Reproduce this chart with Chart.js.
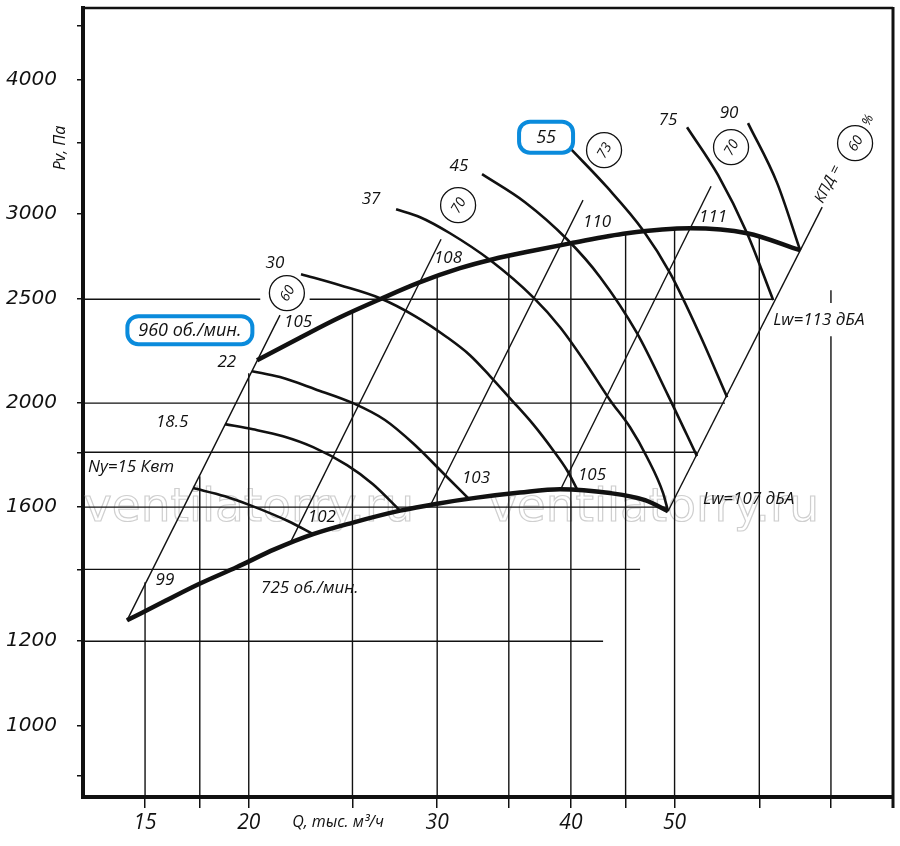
<!DOCTYPE html>
<html>
<head>
<meta charset="utf-8">
<script src="https://cdn.jsdelivr.net/npm/chart.js@4.4.1/dist/chart.umd.min.js"></script>
<style>
  html, body { margin: 0; padding: 0; background: #fff; }
  canvas { display: block; }
</style>
</head>
<body>
<canvas id="chart" width="900" height="846"></canvas>
<script>
// axis ticks (the first tick is printed as "15" on the original sheet)
const xTickValues = [16, 18, 20, 25, 30, 35, 40, 45, 50, 60, 70, 80];
const xTickLabels = ['15', '', '20', '', '30', '', '40', '', '50', '', '', ''];
const yTickValues = [900, 1000, 1200, 1400, 1600, 1800, 2000, 2500, 3000, 3500, 4000, 4500];
const yTickLabels = ['', '1000', '1200', '', '1600', '', '2000', '2500', '3000', '', '4000', ''];
const Q_MIN = 14, Q_MAX = 80, P_MIN = 859, P_MAX = 4670;

// fan curves, Q in thousand m3/h, Pv in Pa
const rpm960Q = [20.36, 22.33, 24.34, 26.53, 28.92, 31.51, 33.83, 36.64, 39.93, 45.14, 51.70, 58.44, 65.51];
const rpm960P = [2193, 2302, 2405, 2500, 2593, 2672, 2724, 2771, 2818, 2880, 2911, 2880, 2777];
const rpm725Q = [15.39, 16.70, 18.01, 19.50, 21.16, 22.97, 25.03, 27.70, 30.0, 32.68, 35.85, 39.08, 43.52, 46.92, 49.30];
const rpm725P = [1255, 1308, 1358, 1407, 1462, 1510, 1548, 1588, 1612, 1633, 1651, 1663, 1649, 1624, 1586];

// motor power curves (kW)
const n15Q = [17.74, 19.00, 20.05, 21.76, 22.97];
const n15P = [1667, 1638, 1607, 1553, 1510];
const n18Q = [19.00, 20.18, 21.53, 22.97, 24.71, 26.13, 27.70];
const n18P = [1912, 1891, 1863, 1820, 1751, 1681, 1588];
const n22Q = [20.14, 21.39, 23.07, 25.03, 26.81, 28.48, 30.64, 32.05];
const n22P = [2142, 2115, 2061, 2000, 1929, 1835, 1707, 1632];
const n30Q = [22.38, 24.34, 26.53, 28.60, 30.64, 32.19, 33.61, 35.09, 36.87, 38.50, 39.67, 40.53];
const n30P = [2638, 2576, 2505, 2411, 2304, 2217, 2120, 2021, 1912, 1808, 1732, 1663];
const n37Q = [27.46, 28.92, 30.84, 33.61, 36.87, 39.08, 41.24, 43.52, 45.43, 47.12, 48.78, 49.30];
const n37P = [3032, 2981, 2880, 2719, 2511, 2354, 2184, 2013, 1899, 1781, 1649, 1586];
const n45Q = [33.04, 36.24, 39.67, 42.60, 46.12, 49.30, 52.47];
const n45P = [3269, 3078, 2843, 2621, 2324, 2034, 1785];
const n55Q = [39.93, 43.24, 46.72, 49.52, 52.82, 55.98];
const n55P = [3457, 3179, 2899, 2644, 2314, 2026];
const n75Q = [51.36, 54.91, 58.44, 61.82];
const n75P = [3616, 3262, 2880, 2495];
const n90Q = [58.56, 62.35, 65.51];
const n90P = [3648, 3207, 2777];

// efficiency lines (straight on log-log)
const eff60LeftQ = [15.39, 21.39], eff60LeftP = [1255, 2416];
const eff70LeftQ = [21.86, 30.25], eff70LeftP = [1481, 2843];
const eff73Q = [29.60, 41.06], eff73P = [1610, 3092];
const eff70RightQ = [39.10, 54.08], eff70RightP = [1660, 3186];
const eff60RightQ = [49.30, 68.69], eff60RightP = [1586, 3046];

// partial grid
const hLineP = [1200, 1400, 1600, 1800, 2000, 2500];
const hLineEndQ = [42.87, 46.42, 49.30, 52.47, 55.73, 61.82];
const hGap2500 = [20.5, 22.8];
const vLineQ = [16, 18, 20, 25, 30, 35, 40, 45, 50, 60, 70];
const vLineTopP = [1362, 1710, 2133, 2439, 2627, 2745, 2820, 2880, 2905, 2855, 2549];
const vGap70 = [2309, 2479];

// texts
const textLabels = [
  { t: 'Ny=15 Квт', q: 14.15, p: 1743, a: 'left' },
  { t: '18.5', q: 16.96, p: 1920 },
  { t: '22', q: 19.08, p: 2184 },
  { t: '30', q: 21.16, p: 2701 },
  { t: '37', q: 26.02, p: 3098 },
  { t: '45', q: 31.44, p: 3325 },
  { t: '75', q: 49.31, p: 3671 },
  { t: '90', q: 56.22, p: 3727 },
  { t: '105', q: 22.24, p: 2380 },
  { t: '108', q: 30.71, p: 2730 },
  { t: '110', q: 42.32, p: 2949 },
  { t: '111', q: 54.32, p: 2981 },
  { t: '99', q: 16.70, p: 1368 },
  { t: '102', q: 23.41, p: 1566 },
  { t: '103', q: 32.61, p: 1703 },
  { t: '105', q: 41.86, p: 1714 },
  { t: 'Lw=113 дБА', q: 61.82, p: 2390, a: 'left' },
  { t: 'Lw=107 дБА', q: 53.16, p: 1628, a: 'left' },
  { t: '725 об./мин.', q: 22.81, p: 1345 }
];
const boxedLabels = [
  { t: '960 об./мин.', q: 17.62, p: 2339, w: 125, h: 28 },
  { t: '55', q: 37.92, p: 3539, w: 54, h: 31 }
];
const effCircles = [
  { t: '60', q: 21.71, p: 2533 },
  { t: '70', q: 31.38, p: 3059 },
  { t: '73', q: 42.96, p: 3442 },
  { t: '70', q: 56.46, p: 3464 },
  { t: '60', q: 73.73, p: 3494 }
];
const kpdLabel = { t: 'КПД =', q: 69.58, p: 3200 };
const pctLabel = { t: '%', q: 75.82, p: 3671 };

const INK = '#111';
const ITALIC = 'italic 17px "Open Sans"';

function curve(qs, ps, width, smooth) {
  return {
    data: qs.map((q, i) => ({ x: q, y: ps[i] })),
    showLine: true,
    borderColor: INK,
    borderWidth: width,
    pointRadius: 0,
    fill: false,
    tension: 0,
    cubicInterpolationMode: smooth ? 'monotone' : 'default'
  };
}

const datasets = [];
// rpm curves on top
datasets.push(curve(rpm960Q, rpm960P, 4.5, true));
datasets.push(curve(rpm725Q, rpm725P, 4.5, true));
[[n15Q, n15P], [n18Q, n18P], [n22Q, n22P], [n30Q, n30P], [n37Q, n37P],
 [n45Q, n45P], [n55Q, n55P], [n75Q, n75P], [n90Q, n90P]].forEach(([q, p]) => {
  datasets.push(curve(q, p, 2.6, true));
});
[[eff60LeftQ, eff60LeftP], [eff70LeftQ, eff70LeftP], [eff73Q, eff73P],
 [eff70RightQ, eff70RightP], [eff60RightQ, eff60RightP]].forEach(([q, p]) => {
  datasets.push(curve(q, p, 1.4, false));
});
// horizontal grid pieces
hLineP.forEach((p, i) => {
  if (p === 2500) {
    datasets.push(curve([Q_MIN, hGap2500[0]], [p, p], 1.4, false));
    datasets.push(curve([hGap2500[1], hLineEndQ[i]], [p, p], 1.4, false));
  } else {
    datasets.push(curve([Q_MIN, hLineEndQ[i]], [p, p], 1.4, false));
  }
});
// vertical grid pieces
vLineQ.forEach((q, i) => {
  if (q === 70) {
    datasets.push(curve([q, q], [P_MIN, vGap70[0]], 1.4, false));
    datasets.push(curve([q, q], [vGap70[1], vLineTopP[i]], 1.4, false));
  } else {
    datasets.push(curve([q, q], [P_MIN, vLineTopP[i]], 1.4, false));
  }
});

const overlay = {
  id: 'overlay',
  beforeDatasetsDraw(chart) {
    const ctx = chart.ctx;
    ctx.save();
    ctx.font = '47px "DejaVu Sans"';
    ctx.strokeStyle = '#cfcfcf';
    ctx.lineWidth = 1.2;
    ctx.textBaseline = 'alphabetic';
    ctx.strokeText('ventilatorry.ru', 84, 521);
    ctx.strokeText('ventilatorry.ru', 489, 521);
    ctx.restore();
  },
  afterDatasetsDraw(chart) {
    const ctx = chart.ctx;
    const px = q => chart.scales.x.getPixelForValue(q);
    const py = p => chart.scales.y.getPixelForValue(p);
    ctx.save();
    ctx.fillStyle = INK;
    ctx.textBaseline = 'middle';

    textLabels.forEach(l => {
      ctx.font = ITALIC;
      ctx.textAlign = l.a || 'center';
      ctx.fillText(l.t, px(l.q), py(l.p));
    });

    boxedLabels.forEach(l => {
      const x = px(l.q), y = py(l.p);
      ctx.beginPath();
      ctx.roundRect(x - l.w / 2, y - l.h / 2, l.w, l.h, 11);
      ctx.fillStyle = '#fff';
      ctx.fill();
      ctx.lineWidth = 4;
      ctx.strokeStyle = '#0a8bdc';
      ctx.stroke();
      ctx.fillStyle = INK;
      ctx.font = 'italic 18px "Open Sans"';
      ctx.textAlign = 'center';
      ctx.fillText(l.t, x, y + 1);
    });

    effCircles.forEach(c => {
      const x = px(c.q), y = py(c.p);
      ctx.beginPath();
      ctx.arc(x, y, 17.5, 0, Math.PI * 2);
      ctx.fillStyle = '#fff';
      ctx.fill();
      ctx.lineWidth = 1.3;
      ctx.strokeStyle = INK;
      ctx.stroke();
      ctx.save();
      ctx.translate(x, y);
      ctx.rotate(-Math.PI / 3);
      ctx.fillStyle = INK;
      ctx.font = 'italic 14px "Open Sans"';
      ctx.textAlign = 'center';
      ctx.fillText(c.t, 0, 1);
      ctx.restore();
    });

    [kpdLabel, pctLabel].forEach((l, i) => {
      ctx.save();
      ctx.translate(px(l.q), py(l.p));
      ctx.rotate(-1.1);
      ctx.fillStyle = INK;
      ctx.font = i === 0 ? 'italic 15px "Open Sans"' : 'italic 13px "Open Sans"';
      ctx.textAlign = 'center';
      ctx.fillText(l.t, 0, 0);
      ctx.restore();
    });
    ctx.restore();
  },
  afterDraw(chart) {
    const ctx = chart.ctx;
    const a = chart.chartArea;
    ctx.save();
    ctx.strokeStyle = INK;
    ctx.lineWidth = 2.5;
    ctx.beginPath();
    ctx.moveTo(a.left, a.top);
    ctx.lineTo(a.right, a.top);
    ctx.stroke();
    ctx.lineWidth = 3;
    ctx.beginPath();
    ctx.moveTo(a.right, a.top - 1);
    ctx.lineTo(a.right, a.bottom + 11);
    ctx.stroke();

    ctx.fillStyle = INK;
    ctx.font = 'italic 16px "Open Sans"';
    ctx.textAlign = 'center';
    ctx.textBaseline = 'middle';
    ctx.fillText('Q, тыс. м³/ч', 338, 822);
    ctx.save();
    ctx.translate(60, 148);
    ctx.rotate(-Math.PI / 2);
    ctx.fillText('Pv, Па', 0, 0);
    ctx.restore();
    ctx.restore();
  }
};

Chart.defaults.font.family = '"Open Sans", sans-serif';
Chart.defaults.color = INK;

new Chart(document.getElementById('chart'), {
  type: 'scatter',
  data: { datasets },
  options: {
    responsive: false,
    animation: false,
    events: [],
    layout: { padding: { top: 8, right: 7, left: 0, bottom: 0 } },
    plugins: { legend: { display: false }, tooltip: { enabled: false } },
    scales: {
      x: {
        type: 'logarithmic',
        min: Q_MIN,
        max: Q_MAX,
        afterBuildTicks: axis => { axis.ticks = xTickValues.map(v => ({ value: v })); },
        afterFit: axis => { axis.height = 49; axis.paddingLeft = 0; axis.paddingRight = 0; },
        ticks: {
          autoSkip: false,
          maxRotation: 0,
          padding: 2,
          color: INK,
          font: { family: '"Open Sans"', style: 'italic', size: 21 },
          callback: v => {
            const i = xTickValues.indexOf(v);
            return i >= 0 ? xTickLabels[i] : '';
          }
        },
        grid: { drawOnChartArea: false, drawTicks: true, tickLength: 11, lineWidth: 1.5, color: INK },
        border: { display: true, width: 4, color: INK }
      },
      y: {
        type: 'logarithmic',
        min: P_MIN,
        max: P_MAX,
        afterBuildTicks: axis => { axis.ticks = yTickValues.map(v => ({ value: v })); },
        afterFit: axis => { axis.width = 83; axis.paddingTop = 0; axis.paddingBottom = 0; },
        ticks: {
          autoSkip: false,
          padding: 20,
          color: INK,
          font: { family: '"DejaVu Sans"', style: 'italic', size: 20 },
          callback: v => {
            const i = yTickValues.indexOf(v);
            return i >= 0 ? yTickLabels[i] : '';
          }
        },
        grid: { drawOnChartArea: false, drawTicks: true, tickLength: 6, lineWidth: 1.5, color: INK },
        border: { display: true, width: 4, color: INK }
      }
    }
  },
  plugins: [overlay]
});
</script>
</body>
</html>
